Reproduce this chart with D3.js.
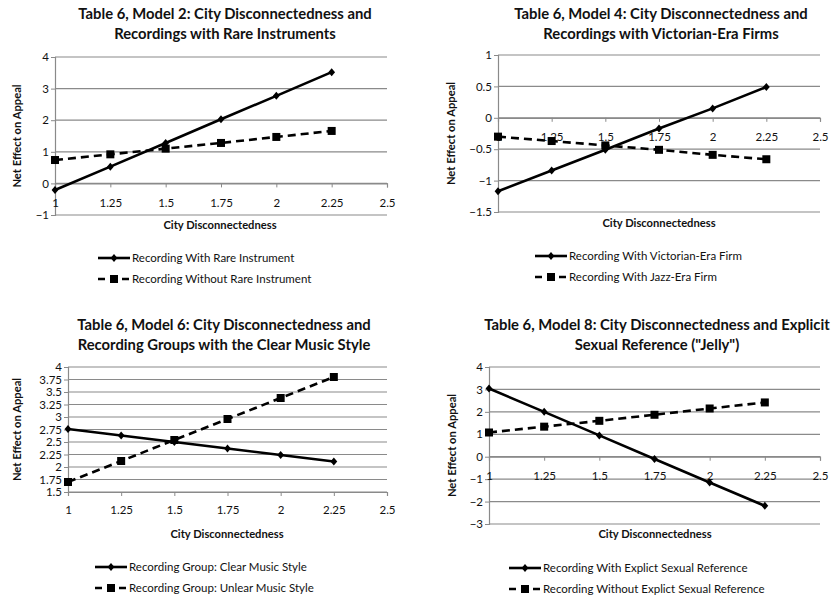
<!DOCTYPE html>
<html><head><meta charset="utf-8">
<script src="https://cdn.jsdelivr.net/npm/d3@7"></script>
<style>body{margin:0;background:#fff}svg{display:block}</style>
</head><body>
<svg id="c" width="835" height="598"></svg>
<script>
// ---- data ----
const xValues = [1, 1.25, 1.5, 1.75, 2, 2.25];
const xTicks = [1, 1.25, 1.5, 1.75, 2, 2.25, 2.5];

const titles2 = ["Table 6, Model 2: City Disconnectedness and", "Recordings with Rare Instruments"];
const yTicks2 = [-1, 0, 1, 2, 3, 4];
const withRare = [-0.21, 0.53, 1.28, 2.03, 2.77, 3.52];
const withoutRare = [0.74, 0.92, 1.1, 1.28, 1.47, 1.66];
const legend2 = ["Recording With Rare Instrument", "Recording Without Rare Instrument"];

const titles4 = ["Table 6, Model 4: City Disconnectedness and", "Recordings with Victorian-Era Firms"];
const yTicks4 = [-1.5, -1, -0.5, 0, 0.5, 1];
const victorian = [-1.17, -0.84, -0.51, -0.17, 0.15, 0.49];
const jazz = [-0.3, -0.37, -0.44, -0.51, -0.59, -0.66];
const legend4 = ["Recording With Victorian-Era Firm", "Recording With Jazz-Era Firm"];

const titles6 = ["Table 6, Model 6: City Disconnectedness and", "Recording Groups with the Clear Music Style"];
const yTicks6 = [1.5, 1.75, 2, 2.25, 2.5, 2.75, 3, 3.25, 3.5, 3.75, 4];
const clearStyle = [2.76, 2.63, 2.5, 2.37, 2.24, 2.11];
const unclearStyle = [1.7, 2.12, 2.54, 2.96, 3.38, 3.8];
const legend6 = ["Recording Group:  Clear Music Style", "Recording Group: Unlear Music Style"];

const titles8 = ["Table 6, Model 8: City Disconnectedness and Explicit", "Sexual Reference (\"Jelly\")"];
const yTicks8 = [-3, -2, -1, 0, 1, 2, 3, 4];
const explicitRef = [3.04, 2.0, 0.95, -0.1, -1.15, -2.19];
const noExplicitRef = [1.08, 1.34, 1.6, 1.87, 2.15, 2.42];
const legend8 = ["Recording With Explict Sexual Reference", "Recording Without Explict Sexual Reference"];

const xTitle = "City Disconnectedness";
const yTitle = "Net Effect on Appeal";

// ---- drawing ----
const svg = d3.select("#c");
const FONT = "Lato, 'Open Sans', sans-serif";
const GRID = "#8a8a8a";

function diamondPath(s){ return `M0,${-s}L${s*0.85},0L0,${s}L${-s*0.85},0Z`; }

function panel(cfg){
  const g = svg.append("g");
  const x = d3.scaleLinear().domain([1, 2.5]).range([cfg.left, cfg.right]);
  const yd = d3.extent(cfg.yTicks);
  const y = d3.scaleLinear().domain(yd).range([cfg.bottom, cfg.top]);

  // title
  cfg.titles.forEach((t, i) => {
    g.append("text").attr("x", cfg.tcx).attr("y", cfg.ty + i*20)
      .attr("text-anchor", "middle").attr("font-family", FONT)
      .attr("font-weight", "bold").attr("font-size", 14.8).attr("fill", "#111").text(t);
  });

  // gridlines
  g.append("g").selectAll("line").data(cfg.yTicks).join("line")
    .attr("x1", cfg.left).attr("x2", cfg.right)
    .attr("y1", d => y(d)).attr("y2", d => y(d))
    .attr("stroke", GRID).attr("stroke-width", 1.2);

  // y axis
  const ya = g.append("g").attr("transform", `translate(${cfg.left},0)`)
    .call(d3.axisLeft(y).tickValues(cfg.yTicks).tickSize(4).tickPadding(2).tickFormat(d3.format("")));
  ya.select(".domain").attr("stroke", GRID).attr("stroke-width", 1.2);
  ya.selectAll(".tick line").attr("stroke", GRID);
  ya.selectAll("text").attr("font-family", FONT).attr("font-size", 11.5).attr("fill", "#111");

  // x axis at crossing
  const cross = yd[0] > 0 ? yd[0] : 0;
  const xa = g.append("g").attr("transform", `translate(0,${y(cross)})`)
    .call(d3.axisBottom(x).tickValues(xTicks).tickSize(4).tickPadding(cfg.xpad).tickFormat(d3.format("")));
  xa.select(".domain").attr("stroke", GRID).attr("stroke-width", 1.2);
  xa.selectAll(".tick line").attr("stroke", GRID);
  xa.selectAll("text").attr("font-family", FONT).attr("font-size", 11.5).attr("fill", "#111");

  // axis titles
  g.append("text").attr("x", cfg.xtx).attr("y", cfg.xty).attr("text-anchor", "middle")
    .attr("font-family", FONT).attr("font-weight", "bold").attr("font-size", 11.2).attr("fill", "#111").text(xTitle);
  g.append("text").attr("transform", `translate(${cfg.ytx},${(cfg.top + cfg.bottom)/2}) rotate(-90)`)
    .attr("text-anchor", "middle")
    .attr("font-family", FONT).attr("font-weight", "bold").attr("font-size", 11.2).attr("fill", "#111").text(yTitle);

  const line = d3.line().x((d, i) => x(xValues[i])).y(d => y(d));
  // dashed series
  g.append("path").datum(cfg.dashed).attr("d", line).attr("fill", "none")
    .attr("stroke", "#000").attr("stroke-width", 2.6).attr("stroke-dasharray", "8,5");
  g.append("g").selectAll("rect").data(cfg.dashed).join("rect")
    .attr("x", (d, i) => x(xValues[i]) - 4).attr("y", d => y(d) - 4)
    .attr("width", 8).attr("height", 8).attr("fill", "#000");
  // solid series
  g.append("path").datum(cfg.solid).attr("d", line).attr("fill", "none")
    .attr("stroke", "#000").attr("stroke-width", 2.6);
  g.append("g").selectAll("path").data(cfg.solid).join("path")
    .attr("transform", (d, i) => `translate(${x(xValues[i])},${y(d)})`)
    .attr("d", diamondPath(4)).attr("fill", "#000");

  // legend
  const L = cfg.legend;
  const lg = g.append("g");
  [0, 1].forEach(i => {
    const yy = L.y + i*21;
    lg.append("line").attr("x1", L.x).attr("x2", L.x + 32).attr("y1", yy).attr("y2", yy)
      .attr("stroke", "#000").attr("stroke-width", 2.6)
      .attr("stroke-dasharray", i ? "7,5" : null);
    if (i === 0) lg.append("path").attr("transform", `translate(${L.x+16},${yy})`).attr("d", diamondPath(4)).attr("fill", "#000");
    else lg.append("rect").attr("x", L.x + 12).attr("y", yy - 4).attr("width", 8).attr("height", 8).attr("fill", "#000");
    lg.append("text").attr("x", L.x + 34).attr("y", yy + 4)
      .attr("font-family", FONT).attr("font-size", 11.5).attr("fill", "#111").text(cfg.legendText[i]);
  });
}

panel({titles: titles2, tcx: 225, ty: 19, left: 55, right: 387, top: 57, bottom: 215, yTicks: yTicks2,
  solid: withRare, dashed: withoutRare, xpad: 11, xtx: 220, xty: 229, ytx: 21,
  legend: {x: 98, y: 258}, legendText: legend2});
panel({titles: titles4, tcx: 661, ty: 19, left: 498, right: 820, top: 55, bottom: 212, yTicks: yTicks4,
  solid: victorian, dashed: jazz, xpad: 11, xtx: 659, xty: 227, ytx: 455,
  legend: {x: 535, y: 256}, legendText: legend4});
panel({titles: titles6, tcx: 224, ty: 330, left: 68, right: 387, top: 367, bottom: 492, yTicks: yTicks6,
  solid: clearStyle, dashed: unclearStyle, xpad: 10, xtx: 227, xty: 538, ytx: 21,
  legend: {x: 95, y: 567}, legendText: legend6});
panel({titles: titles8, tcx: 657, ty: 330, left: 489, right: 820, top: 367, bottom: 524, yTicks: yTicks8,
  solid: explicitRef, dashed: noExplicitRef, xpad: 11, xtx: 655, xty: 538, ytx: 456,
  legend: {x: 509, y: 568}, legendText: legend8});
</script>
</body></html>
